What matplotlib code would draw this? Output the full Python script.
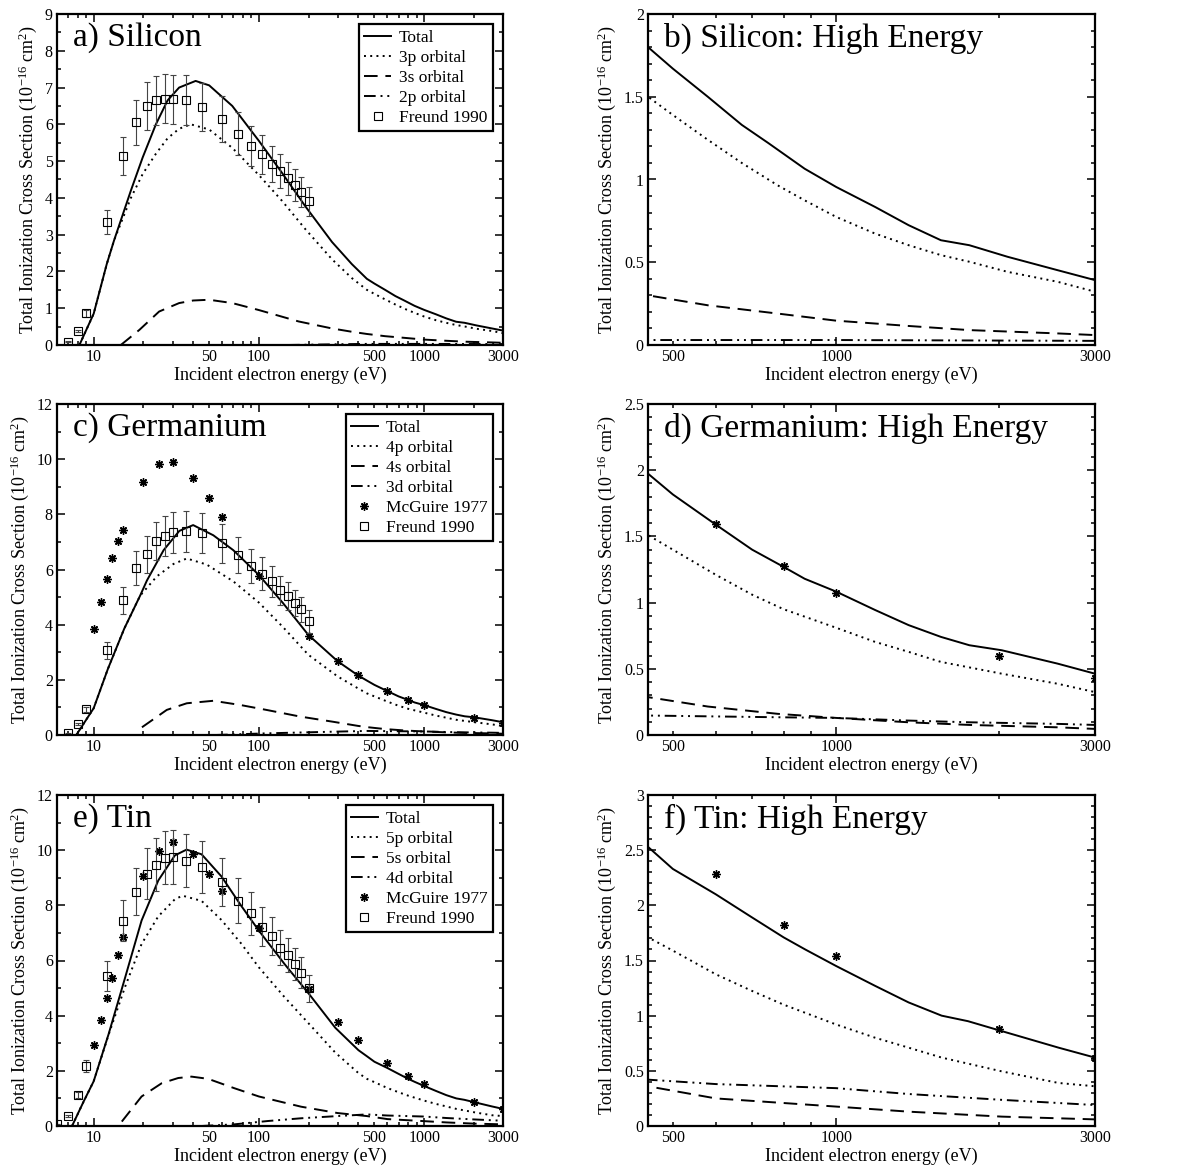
import matplotlib
matplotlib.use('Agg')
import matplotlib.pyplot as plt
from matplotlib.lines import Line2D
from matplotlib.ticker import MultipleLocator, FixedLocator, LogLocator, FormatStrFormatter, NullFormatter

# 字体：Times 风格的衬线体
plt.rcParams['font.family'] = ['Liberation Serif', 'DejaVu Serif']
plt.rcParams['mathtext.fontset'] = 'custom'
plt.rcParams['mathtext.rm'] = 'Liberation Serif'
plt.rcParams['mathtext.it'] = 'Liberation Serif:italic'

# ---------------- Silicon ----------------
si_e_total = [8.2, 10, 12, 13.3, 16.8, 19.8, 23.8, 28, 32.9, 41.4, 50, 69, 100, 138, 191, 277, 365,
              450, 500, 580, 670, 750, 875, 1000, 1180, 1360, 1560, 1760, 2070, 2560, 3000]
si_total = [0, 0.85, 2.2, 2.85, 4.2, 5.1, 6.0, 6.65, 7.0, 7.18, 7.06, 6.5, 5.55, 4.68, 3.77, 2.80, 2.2,
            1.80, 1.67, 1.50, 1.33, 1.22, 1.065, 0.955, 0.834, 0.724, 0.633, 0.603, 0.533, 0.452, 0.392]
si_e_3p = [8.2, 10, 12, 13.3, 16.8, 19.8, 23.8, 28, 32.9, 38.7, 50, 69, 100, 138, 191, 277, 365,
           450, 500, 580, 670, 780, 875, 1000, 1180, 1360, 1560, 1760, 2070, 2560, 3000]
si_3p = [0, 0.85, 2.2, 2.85, 4.0, 4.65, 5.2, 5.62, 5.88, 6.0, 5.86, 5.36, 4.62, 3.92, 3.15, 2.33, 1.82,
         1.50, 1.39, 1.24, 1.10, 0.965, 0.874, 0.774, 0.673, 0.603, 0.543, 0.503, 0.442, 0.382, 0.322]
si_e_3s = [14.6, 18.9, 24.9, 32.9, 40, 50, 69, 100, 174, 277, 365, 450, 580, 780, 1000, 1360, 1760, 2560, 3000]
si_3s = [0, 0.41, 0.91, 1.14, 1.21, 1.23, 1.14, 0.95, 0.64, 0.45, 0.36, 0.30, 0.24, 0.19, 0.147, 0.115, 0.09,
         0.07, 0.06]
si_e_2p = [150, 250, 450, 1000, 3000]
si_2p = [0, 0.015, 0.03, 0.03, 0.025]
si_freund_e = [7, 8, 9, 12, 15, 18, 21, 24, 27, 30, 36, 45, 60, 75, 90, 105, 120, 135, 150, 165, 180, 200]
si_freund = [0.09, 0.38, 0.86, 3.34, 5.14, 6.06, 6.5, 6.65, 6.7, 6.68, 6.66, 6.48, 6.15, 5.75, 5.41,
             5.18, 4.93, 4.73, 4.53, 4.35, 4.16, 3.91]
si_freund_err = [0.01, 0.04, 0.09, 0.33, 0.51, 0.61, 0.65, 0.67, 0.67, 0.67, 0.67, 0.65, 0.62, 0.58, 0.54,
                 0.52, 0.49, 0.47, 0.45, 0.44, 0.42, 0.39]

# ---------------- Germanium ----------------
ge_e_total = [7.85, 10, 12.2, 15.3, 19.1, 21, 26.5, 33, 40, 53, 70, 100, 140, 199, 300, 398,
              450, 500, 600, 700, 800, 875, 1000, 1180, 1360, 1560, 1760, 2020, 2560, 3000]
ge_total = [0, 0.97, 2.4, 3.85, 5.05, 5.6, 6.7, 7.4, 7.61, 7.24, 6.70, 5.80, 4.78, 3.63, 2.67, 2.16,
            1.974, 1.817, 1.589, 1.40, 1.27, 1.18, 1.083, 0.944, 0.83, 0.741, 0.678, 0.64, 0.539, 0.463]
ge_e_4p = [7.85, 10, 12.2, 15.3, 19.1, 24.1, 30.4, 36.6, 48.3, 70, 100, 140, 199, 300, 398,
           450, 500, 600, 700, 800, 1000, 1180, 1360, 1560, 2020, 2560, 3000]
ge_4p = [0, 0.97, 2.4, 3.85, 5.05, 5.75, 6.2, 6.4, 6.18, 5.57, 4.8, 3.91, 2.91, 2.12, 1.69,
         1.51, 1.40, 1.21, 1.06, 0.95, 0.81, 0.703, 0.628, 0.552, 0.463, 0.387, 0.324]
ge_e_4s = [19.6, 27.7, 36.6, 52.9, 76.9, 111, 177, 281, 398, 450, 580, 780, 1000, 1360, 1760, 2560, 3000]
ge_4s = [0.28, 0.91, 1.15, 1.24, 1.09, 0.91, 0.67, 0.48, 0.33, 0.286, 0.215, 0.16, 0.129, 0.096, 0.076, 0.058, 0.046]
ge_e_3d = [55, 111, 281, 450, 780, 1000, 1360, 1760, 2560, 3000]
ge_3d = [0, 0.06, 0.12, 0.147, 0.134, 0.129, 0.109, 0.096, 0.084, 0.076]
ge_mcguire_e = [10, 11, 12, 13, 14, 15, 20, 25, 30, 40, 50, 60, 100, 200, 300, 400, 600, 800, 1000, 2000, 3000]
ge_mcguire = [3.84, 4.81, 5.66, 6.40, 7.05, 7.45, 9.19, 9.82, 9.88, 9.33, 8.58, 7.90, 5.76, 3.58, 2.67,
              2.16, 1.59, 1.28, 1.07, 0.60, 0.43]
ge_freund_e = [7, 8, 9, 12, 15, 18, 21, 24, 27, 30, 36, 45, 60, 75, 90, 105, 120, 135, 150, 165, 180, 200]
ge_freund = [0.06, 0.40, 0.93, 3.07, 4.88, 6.06, 6.55, 7.04, 7.21, 7.35, 7.39, 7.32, 6.95, 6.52, 6.13,
             5.85, 5.58, 5.25, 5.03, 4.79, 4.55, 4.12]
ge_freund_err = [0.01, 0.04, 0.09, 0.31, 0.49, 0.61, 0.66, 0.70, 0.72, 0.74, 0.74, 0.73, 0.70, 0.65, 0.61,
                 0.59, 0.56, 0.53, 0.50, 0.48, 0.46, 0.41]

# ---------------- Tin ----------------
sn_e_total = [7.4, 8.7, 10, 12.3, 15.5, 19.5, 24.6, 31, 36.5, 45, 59.3, 78, 100, 143, 202, 290, 400,
              450, 500, 600, 700, 800, 877, 1000, 1180, 1360, 1565, 1750, 2020, 2570, 3000]
sn_total = [0, 0.89, 1.62, 3.32, 5.38, 7.45, 8.9, 9.81, 10.02, 9.85, 9.05, 7.99, 7.08, 5.87, 4.77, 3.56, 2.75,
            2.53, 2.33, 2.10, 1.89, 1.71, 1.60, 1.45, 1.27, 1.12, 1.0, 0.95, 0.86, 0.71, 0.62]
sn_e_5p = [7.4, 8.7, 10, 12.3, 15.5, 19.5, 24.6, 31, 34.5, 45, 59.3, 78, 100, 143, 202, 290, 400,
           450, 500, 600, 700, 800, 1000, 1180, 1360, 1565, 2020, 2570, 3000]
sn_5p = [0, 0.89, 1.62, 3.3, 5.05, 6.6, 7.6, 8.22, 8.35, 8.16, 7.47, 6.62, 5.75, 4.67, 3.69, 2.66, 1.92,
         1.71, 1.59, 1.375, 1.224, 1.10, 0.92, 0.80, 0.71, 0.62, 0.495, 0.39, 0.36]
sn_e_5s = [14.8, 19.5, 25.8, 32.5, 39.1, 49.3, 71, 100, 180, 299, 450, 600, 1000, 1360, 2020, 3000]
sn_5s = [0.16, 1.07, 1.55, 1.74, 1.79, 1.71, 1.37, 1.07, 0.70, 0.47, 0.36, 0.25, 0.176, 0.13, 0.085, 0.06]
sn_e_4d = [45, 71, 113, 180, 299, 450, 600, 1000, 1360, 2020, 3000]
sn_4d = [0, 0.06, 0.18, 0.28, 0.36, 0.42, 0.38, 0.343, 0.29, 0.237, 0.19]
sn_mcguire_e = [10, 11, 12, 13, 14, 15, 20, 25, 30, 40, 50, 60, 100, 200, 300, 400, 600, 800, 1000, 2000, 3000]
sn_mcguire = [2.93, 3.84, 4.65, 5.38, 6.2, 6.86, 9.05, 9.96, 10.29, 9.85, 9.12, 8.51, 7.17, 4.96, 3.78,
              3.1, 2.28, 1.82, 1.54, 0.88, 0.62]
sn_freund_e = [6, 7, 8, 9, 12, 15, 18, 21, 24, 27, 30, 36, 45, 60, 75, 90, 105, 120, 135, 150, 165, 180, 200]
sn_freund = [0.08, 0.36, 1.13, 2.16, 5.44, 7.45, 8.5, 9.15, 9.48, 9.73, 9.75, 9.61, 9.39, 8.84, 8.17,
             7.71, 7.23, 6.9, 6.47, 6.19, 5.87, 5.56, 4.99]
sn_freund_err = [0.01, 0.04, 0.11, 0.22, 0.54, 0.75, 0.85, 0.92, 0.95, 0.97, 0.98, 0.96, 0.94, 0.88, 0.82,
                 0.77, 0.72, 0.69, 0.65, 0.62, 0.59, 0.56, 0.50]

# 线型：实线 / 点线 / 长虚线 / 点点划线
styles = ['-', (0, (1, 2.2)), (0, (7, 4)), (0, (6, 2.5, 1, 2.5, 1, 2.5))]
star = (8, 2, 0)

W, H = 1179, 1167
fig = plt.figure(figsize=(W / 100, H / 100), dpi=100)


def make_axes(x0, top, w, h):
    return fig.add_axes([x0 / W, 1 - (top + h) / H, w / W, h / H])


def style_axes(ax, xlim, xticks, short_ticks, ylim, ymaj, ymin):
    ax.set_xscale('log')
    ax.set_xlim(xlim)
    ax.set_ylim(ylim)
    ax.xaxis.set_major_locator(FixedLocator(xticks))
    ax.xaxis.set_minor_locator(LogLocator(base=10, subs=range(2, 10), numticks=30))
    ax.xaxis.set_minor_formatter(NullFormatter())
    ax.set_xticklabels([str(t) for t in xticks])
    ax.yaxis.set_major_locator(MultipleLocator(ymaj))
    ax.yaxis.set_minor_locator(MultipleLocator(ymin))
    ax.yaxis.set_major_formatter(FormatStrFormatter('%g'))
    ax.tick_params(which='both', direction='in', top=True, right=True, width=1.1, labelsize=11.5, pad=3)
    ax.tick_params(which='major', length=6)
    ax.tick_params(which='minor', length=3)
    for t in ax.xaxis.get_major_ticks():
        if t.get_loc() in short_ticks:
            t.tick1line.set_markersize(3)
            t.tick2line.set_markersize(3)
    for s in ax.spines.values():
        s.set_linewidth(1.6)
    ax.set_xlabel('Incident electron energy (eV)', fontsize=13, labelpad=1)
    ax.set_ylabel('Total Ionization Cross Section (10$^{-16}$ cm$^{2}$)', fontsize=13, labelpad=4)


def draw_curves(ax, curves):
    for (e, v), ls in zip(curves, styles):
        ax.plot(e, v, color='black', linestyle=ls, linewidth=1.4)


panels = [
    # 元素, 各轨道曲线, McGuire, Freund, 轨道名称, 低能 y 轴, 高能 y 轴
    ('Silicon', [(si_e_total, si_total), (si_e_3p, si_3p), (si_e_3s, si_3s), (si_e_2p, si_2p)],
     None, (si_freund_e, si_freund, si_freund_err), ['3p', '3s', '2p'], (9, 1, 0.5), (2, 0.5, 0.1)),
    ('Germanium', [(ge_e_total, ge_total), (ge_e_4p, ge_4p), (ge_e_4s, ge_4s), (ge_e_3d, ge_3d)],
     (ge_mcguire_e, ge_mcguire), (ge_freund_e, ge_freund, ge_freund_err), ['4p', '4s', '3d'],
     (12, 2, 1), (2.5, 0.5, 0.1)),
    ('Tin', [(sn_e_total, sn_total), (sn_e_5p, sn_5p), (sn_e_5s, sn_5s), (sn_e_4d, sn_4d)],
     (sn_mcguire_e, sn_mcguire), (sn_freund_e, sn_freund, sn_freund_err), ['5p', '5s', '4d'],
     (12, 2, 1), (3, 0.5, 0.1)),
]

tops = [14, 404, 795]
letters = ['a', 'b', 'c', 'd', 'e', 'f']

for i, (name, curves, mcg, fre, orbs, ylow, yhigh) in enumerate(panels):
    # ---- 左图：全能量范围 ----
    ax = make_axes(57, tops[i], 446, 331)
    draw_curves(ax, curves)
    if mcg is not None:
        ax.plot(mcg[0], mcg[1], linestyle='none', marker=star, markersize=6,
                color='black', markeredgewidth=1.0)
    ax.errorbar(fre[0], fre[1], yerr=fre[2], fmt='s', markersize=5.5, markerfacecolor='none',
                markeredgecolor='black', markeredgewidth=0.8, ecolor='#444444', elinewidth=0.8,
                capsize=2.5, capthick=0.8)
    style_axes(ax, (6, 3000), [10, 50, 100, 500, 1000, 3000], [50, 500, 3000],
               (0, ylow[0]), ylow[1], ylow[2])
    ax.text(0.035, 0.975, letters[2 * i] + ') ' + name, transform=ax.transAxes,
            fontsize=24, va='top', ha='left')

    # 图例
    handles = [Line2D([], [], color='black', linestyle=styles[k], linewidth=1.4) for k in range(4)]
    labels = ['Total'] + [o + ' orbital' for o in orbs]
    if mcg is not None:
        handles.append(Line2D([], [], linestyle='none', marker=star, markersize=6, color='black'))
        labels.append('McGuire 1977')
    handles.append(Line2D([], [], linestyle='none', marker='s', markersize=5.5,
                          markerfacecolor='none', markeredgecolor='black', markeredgewidth=0.8))
    labels.append('Freund 1990')
    leg = ax.legend(handles, labels, loc='upper right', fontsize=12.5, frameon=True, fancybox=False,
                    edgecolor='black', framealpha=1, borderpad=0.3, labelspacing=0.22,
                    handlelength=1.55, handletextpad=0.45, borderaxespad=0.6)
    leg.get_frame().set_linewidth(1.6)

    # ---- 右图：高能部分 ----
    ax2 = make_axes(648, tops[i], 447, 331)
    draw_curves(ax2, curves)
    if mcg is not None:
        ax2.plot(mcg[0], mcg[1], linestyle='none', marker=star, markersize=6,
                 color='black', markeredgewidth=1.0)
    style_axes(ax2, (450, 3000), [500, 1000, 3000], [500, 3000],
               (0, yhigh[0]), yhigh[1], yhigh[2])
    ax2.text(0.035, 0.975, letters[2 * i + 1] + ') ' + name + ': High Energy', transform=ax2.transAxes,
             fontsize=24, va='top', ha='left')

fig.savefig('out.png', dpi=100)
